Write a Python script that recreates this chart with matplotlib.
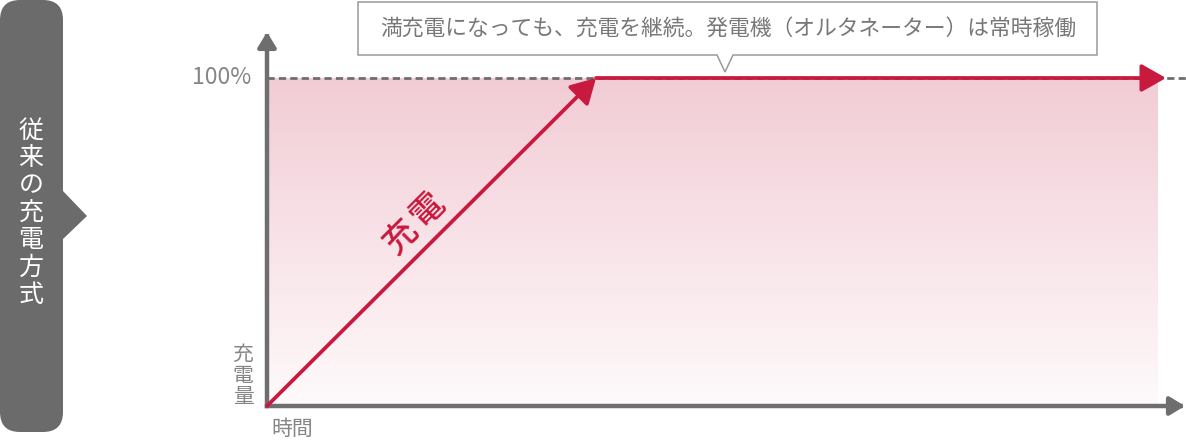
"""
Schéma - méthode de charge conventionnelle
------------------------------------------
Courbe de charge : montée linéaire jusqu'à 100 %, puis charge continue.
"""

import matplotlib
matplotlib.use('Agg')
import matplotlib.pyplot as plt
import numpy as np
from matplotlib.patches import FancyBboxPatch, Polygon
from matplotlib.colors import LinearSegmentedColormap

plt.rcParams['font.family'] = ['Noto Sans CJK JP', 'DejaVu Sans']

# Données de la courbe (temps normalisé, niveau de charge en %)
temps = [0.0, 0.366, 1.0]
charge = [0, 100, 100]
fin_zone = 0.99
niveau_max = 100

# Textes
titre_gauche = '従来の充電方式'
texte_bulle = '満充電になっても、充電を継続。発電機（オルタネーター）は常時稼働'
label_pente = '充電'
label_y = '充電量'
label_x = '時間'
label_100 = '100%'

ROUGE = '#c8193e'
GRIS_AXE = '#6e6e6e'
GRIS_TEXTE = '#858585'
GRIS_PANNEAU = '#6b6b6b'

W, H = 1186, 442


def main():
    fig = plt.figure(figsize=(W / 100, H / 100), dpi=100)

    # Axe de fond en pixels pour les décorations
    fond = fig.add_axes([0, 0, 1, 1])
    fond.set_xlim(0, W)
    fond.set_ylim(H, 0)
    fond.axis('off')

    # Panneau gauche arrondi avec sa pointe
    fond.add_patch(FancyBboxPatch((0, 0), 63, 432, boxstyle='round,pad=0,rounding_size=20',
                                  fc=GRIS_PANNEAU, ec='none'))
    fond.add_patch(Polygon([(62, 190), (87, 216), (62, 240)], closed=True,
                           fc=GRIS_PANNEAU, ec='none'))
    for i, c in enumerate(titre_gauche):
        fond.text(31, 131 + i * 27.3, c, color='white', fontsize=18,
                  ha='center', va='center')

    # Bulle d'explication
    bulle = [(358, 2), (1097, 2), (1097, 55), (733, 55), (725, 72), (717, 55), (358, 55)]
    fond.add_patch(Polygon(bulle, closed=True, fc='white', ec='#9a9a9a', lw=1.1))
    fond.text(728, 29, texte_bulle, color='#787878', fontsize=15.7, ha='center', va='center')

    # Labels des axes
    for i, c in enumerate(label_y):
        fond.text(243, 355 + i * 21, c, color=GRIS_TEXTE, fontsize=15,
                  ha='center', va='center')
    fond.text(292, 429, label_x, color=GRIS_TEXTE, fontsize=15, ha='center', va='center')

    # Axe du graphique en coordonnées de données
    x0, y0, x1, y100 = 267, 406, 1166, 78
    ax = fig.add_axes([x0 / W, (H - y0) / H, (x1 - x0) / W, (y0 - y100) / H])

    # Zone en dégradé rose
    cmap = LinearSegmentedColormap.from_list('rose', ['#fefafb', '#f2ccd5'])
    grad = np.linspace(0, 1, 256).reshape(-1, 1)
    ax.imshow(grad, extent=(0, fin_zone, 0, niveau_max), origin='lower',
              aspect='auto', cmap=cmap, zorder=1)
    ax.set_xlim(0, 1)
    ax.set_ylim(0, niveau_max)
    ax.axis('off')

    # Ligne pointillée à 100 %
    ax.plot([0, 1.022], [niveau_max, niveau_max], color='#6e6e6e', lw=2.0,
            dashes=(2.6, 1.5), zorder=2, clip_on=False)

    # Axes avec flèches
    style_axe = dict(arrowstyle='-|>,head_length=9,head_width=5.5', mutation_scale=1,
                     color=GRIS_AXE, lw=3.2, shrinkA=0, shrinkB=0, capstyle='projecting')
    ax.annotate('', xy=(0, 114), xytext=(0, 0), arrowprops=style_axe,
                annotation_clip=False, zorder=3)
    ax.annotate('', xy=(1.021, 0), xytext=(0, 0), arrowprops=style_axe,
                annotation_clip=False, zorder=3)

    # Courbe de charge en segments fléchés
    style_courbe = dict(arrowstyle='-|>,head_length=15,head_width=8.5', mutation_scale=1,
                        color=ROUGE, lw=2.7, shrinkA=0, shrinkB=0)
    for i in range(len(temps) - 1):
        ax.annotate('', xy=(temps[i + 1], charge[i + 1]), xytext=(temps[i], charge[i]),
                    arrowprops=style_courbe, annotation_clip=False, zorder=4)

    ax.annotate(label_100, xy=(0, niveau_max), xytext=(-11, 0), textcoords='offset points',
                ha='right', va='center', color=GRIS_TEXTE, fontsize=16.5,
                annotation_clip=False)

    # Label de la pente, caractère par caractère le long de la diagonale
    for i, c in enumerate(label_pente):
        ax.text(402 + i * 26, 237 - i * 28, c, transform=fond.transData, color=ROUGE,
                fontsize=24, fontweight='medium', rotation=45, ha='center', va='center',
                zorder=5)

    fig.savefig('out.png', dpi=100)
    plt.close(fig)


if __name__ == "__main__":
    main()
